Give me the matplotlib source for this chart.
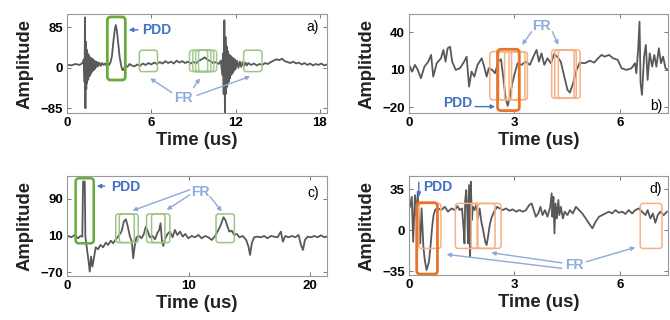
import matplotlib
matplotlib.use("Agg")
import matplotlib.pyplot as plt
from matplotlib.patches import FancyBboxPatch

plt.rcParams['font.family'] = ['Liberation Sans', 'DejaVu Sans']

# ---------------- data ----------------
a_time = [0.0, 0.3, 0.6, 0.9, 1.1, 1.2, 1.25, 1.28, 1.31, 1.34, 1.37, 1.40, 1.43, 1.47, 1.51,
          1.55, 1.6, 1.65, 1.7, 1.75, 1.8, 1.85, 1.9, 1.95, 2.0, 2.05, 2.1, 2.15, 2.2, 2.3,
          2.4, 2.5, 2.6, 2.7, 2.8, 2.9, 3.0, 3.1, 3.2, 3.3, 3.4, 3.47, 3.55, 3.65, 3.75,
          3.85, 3.95, 4.05, 4.15, 4.3, 4.45, 4.6, 4.8, 5.0, 5.2, 5.4, 5.6, 5.8, 6.0, 6.2,
          6.4, 6.6, 6.8, 7.0, 7.2, 7.4, 7.6, 7.8, 8.0, 8.2, 8.4, 8.6, 8.8, 9.0, 9.2, 9.4,
          9.6, 9.8, 10.0, 10.2, 10.4, 10.6, 10.8, 10.95, 11.05, 11.1, 11.15, 11.2, 11.24,
          11.28, 11.32, 11.36, 11.4, 11.45, 11.5, 11.55, 11.6, 11.65, 11.7, 11.75, 11.8,
          11.85, 11.9, 11.95, 12.0, 12.1, 12.2, 12.3, 12.4, 12.5, 12.6, 12.7, 12.8, 12.9,
          13.1, 13.3, 13.5, 13.7, 13.9, 14.1, 14.3, 14.5, 14.7, 14.9, 15.1, 15.3, 15.5,
          15.7, 15.9, 16.1, 16.3, 16.5, 16.7, 16.9, 17.1, 17.3, 17.5, 17.7, 17.9, 18.1,
          18.3, 18.5]
a_amp = [7, 5, 8, 6, 10, 18, -30, 106, -85, 55, -45, 38, -32, 30, -25,
         26, -18, 22, -12, 20, -8, 18, -5, 15, -2, 13, 2, 12, 3, 11,
         4, 10, 6, 9, 5, 8, 6, 12, 25, 55, 80, 90, 78, 50, 22,
         5, -5, -3, 5, 2, 8, 5, 3, 7, 4, 9, 6, 10, 7, 11,
         8, 12, 9, 14, 10, 13, 9, 15, 11, 14, 10, 13, 9, 12, 10, 15,
         18, 22, 17, 14, 10, 12, 8, 15, -15, 30, -55, 100, -95,
         65, -55, 45, -40, 35, -30, 28, -22, 25, -15, 22, -10,
         20, -6, 17, -3, 15, 0, 13, 2, 12, 4, 11, 5, 10,
         6, 9, 5, 8, 6, 10, 8, 12, 15, 18, 16, 19, 14,
         12, 10, 13, 9, 11, 7, 10, 6, 9, 5, 8, 6, 9,
         5, 7]

b_time = [0.03, 0.09, 0.17, 0.25, 0.34, 0.44, 0.55, 0.63, 0.69, 0.79, 0.91, 0.98, 1.04, 1.10,
          1.17, 1.23, 1.33, 1.45, 1.57, 1.64, 1.71, 1.78, 1.86, 1.95, 2.07, 2.14, 2.21, 2.27,
          2.37, 2.45, 2.54, 2.62, 2.68, 2.75, 2.81, 2.87, 2.94, 3.01, 3.09, 3.20, 3.32, 3.44,
          3.54, 3.63, 3.70, 3.77, 3.85, 3.94, 4.04, 4.13, 4.23, 4.32, 4.42, 4.51, 4.58, 4.67,
          4.77, 4.86, 5.00, 5.15, 5.27, 5.38, 5.48, 5.57, 5.69, 5.81, 5.94, 6.05, 6.19, 6.33,
          6.43, 6.47, 6.52, 6.56, 6.59, 6.63, 6.69, 6.74, 6.79, 6.85, 6.92, 6.98, 7.04, 7.11,
          7.17, 7.23, 7.30, 7.37]
b_amp = [12.5, 8.5, 13.9, 9.9, 3.2, 12.5, 16.5, 21.9, 4.5, 15.2, 19.2, 25.9, 16.5, 27.2,
         28.5, 16.5, 9.9, 11.2, 16.5, 20.5, -3.5, 8.5, 4.5, 13.9, 19.2, 12.5, 4.5, 11.2,
         9.9, 7.2, 16.5, 18.4, 4.5, -12.8, -18.9, -11.5, -0.8, 7.2, 15.2, 13.9, 16.5, 13.9,
         20.5, 25.9, 16.5, 23.2, 13.9, 19.2, 15.2, 22.7, 20.0, 16.5, 4.5, -6.1, -8.3, -0.8,
         9.9, 15.7, 15.2, 17.3, 15.7, 19.2, 21.9, 20.5, 21.9, 19.2, 17.9, 11.2, 9.9, 11.2,
         15.2, 7.2, 25.9, 48.5, -0.8, -10.1, 20.5, 29.9, 1.9, 23.2, 12.5, 21.9, 12.5, 27.2,
         15.2, 20.5, 11.2, 9.9]

c_time = [0.08, 0.36, 0.63, 0.91, 1.10, 1.26, 1.32, 1.46, 1.51, 1.65, 1.76, 1.87, 1.98, 2.09,
          2.23, 2.36, 2.55, 2.75, 2.97, 3.19, 3.38, 3.60, 3.79, 4.01, 4.20, 4.48, 4.67, 4.84,
          5.00, 5.16, 5.33, 5.44, 5.55, 5.71, 5.93, 6.13, 6.32, 6.48, 6.65, 6.81, 7.03, 7.23,
          7.42, 7.58, 7.69, 7.80, 7.91, 8.08, 8.27, 8.46, 8.68, 8.87, 9.07, 9.29, 9.51, 9.73,
          9.97, 10.25, 10.52, 10.80, 11.07, 11.35, 11.62, 11.90, 12.17, 12.45, 12.64, 12.86,
          13.02, 13.19, 13.35, 13.54, 13.74, 13.96, 14.18, 14.45, 14.73, 14.92, 15.05, 15.19,
          15.38, 15.66, 15.93, 16.21, 16.48, 16.76, 17.03, 17.31, 17.58, 17.75, 17.94, 18.21,
          18.49, 18.76, 19.04, 19.23, 19.40, 19.56, 19.78, 20.05, 20.33, 20.60, 20.88, 21.15,
          21.37]
c_amp = [9.3, 6.4, 11.5, 4.2, 9.3, 7.8, 127.8, 127.8, 7.8, -21.2, -43.0, -68.5, -35.8, -57.6,
         -35.8, -15.4, -19.8, -10.3, -15.4, -5.2, -10.3, -0.9, -6.7, 2.0, 7.8, 18.8, 40.6, 45.7,
         29.7, 9.3, -3.1, -39.4, -15.4, 6.4, 9.3, 4.2, 13.7, 29.7, 18.8, 6.4, 9.3, 2.0,
         15.1, 22.4, 36.9, 0.6, -12.5, 4.2, 13.7, 18.8, 6.4, 22.4, 11.5, 18.8, 7.8, 13.7,
         4.2, 9.3, 6.4, 11.5, 4.2, 9.3, 6.4, 0.6, 9.3, 22.4, 33.3, 50.0,
         44.2, 29.7, 18.8, 20.9, 11.5, 13.7, 6.4, 9.3, 0.6, -14.0, -32.1, -6.7,
         6.4, 7.8, 6.4, 9.3, 4.2, 9.3, 7.8, 6.4, 18.8, -3.1, 9.3, 6.4,
         9.3, 6.4, 11.5, -10.3, -21.2, 0.6, 7.8, 6.4, 9.3, 6.4, 10.8, 6.4,
         7.8]

d_time = [0.03, 0.08, 0.12, 0.17, 0.21, 0.25, 0.28, 0.32, 0.36, 0.41, 0.45, 0.50, 0.57, 0.62,
          0.66, 0.70, 0.75, 0.83, 0.92, 1.02, 1.11, 1.21, 1.30, 1.38, 1.44, 1.51, 1.55, 1.58,
          1.60, 1.63, 1.66, 1.68, 1.71, 1.74, 1.76, 1.79, 1.82, 1.87, 1.92, 1.96, 2.01, 2.06,
          2.11, 2.17, 2.21, 2.25, 2.29, 2.34, 2.40, 2.45, 2.51, 2.58, 2.67, 2.76, 2.86, 2.95,
          3.05, 3.14, 3.24, 3.33, 3.42, 3.49, 3.55, 3.61, 3.68, 3.74, 3.80, 3.87, 3.94, 4.02,
          4.06, 4.08, 4.11, 4.14, 4.17, 4.21, 4.25, 4.28, 4.32, 4.38, 4.43, 4.51, 4.58, 4.66,
          4.75, 4.84, 4.93, 5.03, 5.12, 5.22, 5.31, 5.41, 5.50, 5.59, 5.69, 5.78, 5.88, 5.97,
          6.07, 6.16, 6.25, 6.35, 6.44, 6.54, 6.63, 6.73, 6.79, 6.87, 6.94, 7.01, 7.08, 7.15,
          7.25, 7.34]
d_amp = [20.1, 28.7, -9.9, 30.1, 11.6, 31.6, 8.7, -11.3, 18.7, -14.1, -25.6, -34.1, -27.0, -11.3,
         3.0, 13.0, 17.9, 18.7, 17.3, 20.1, 15.9, 18.7, 17.3, 20.7, 17.3, 18.7, 3.0, -11.3,
         25.9, 34.4, 14.4, -11.3, 38.7, -22.7, 41.6, 8.7, 20.1, 17.3, 23.0, 10.1, 18.7, 7.3,
         0.1, -9.9, -12.7, -5.6, 3.0, 10.1, 14.4, 17.3, 20.1, 18.7, 17.3, 18.7, 16.7, 17.9,
         15.9, 17.3, 15.9, 17.3, 21.6, 23.0, 17.3, 11.6, 14.4, 20.1, 13.0, 17.3, 11.6, 20.1,
         31.6, 11.6, 28.7, -2.7, 23.0, 10.1, 25.9, 13.0, 20.1, 10.1, 15.9, 13.0, 17.3, 14.4,
         20.1, 17.3, 14.4, 10.1, 5.9, 1.6, 7.3, 11.6, 13.0, 14.4, 15.9, 14.4, 17.3, 15.0,
         15.9, 13.9, 17.3, 14.4, 17.3, 18.7, 15.9, 13.0, 17.3, 10.1, 14.4, 6.4, 13.0, 15.9,
         13.0, 15.9]

a_xticks = [0, 6, 12, 18]
a_yticks = [-85, 0, 85]
b_xticks = [0, 3, 6]
b_yticks = [-20, 10, 40]
c_xticks = [0, 10, 20]
c_yticks = [-70, 10, 90]
d_xticks = [0, 3, 6]
d_yticks = [-35, 0, 35]

# ---------------- style ----------------
SIG = '#595959'
PDD_C = '#4472C4'
FR_C = '#8EA9DB'
GREEN = '#6AAA3A'
GREEN_L = '#9CC584'
ORANGE = '#E8742A'
ORANGE_L = '#F4B183'

fig = plt.figure(figsize=(6.7, 3.2), dpi=100)
axA = fig.add_axes([0.1, 0.647, 0.388, 0.309])
axB = fig.add_axes([0.6104, 0.647, 0.3866, 0.309])
axC = fig.add_axes([0.1, 0.1375, 0.388, 0.3125])
axD = fig.add_axes([0.6104, 0.1406, 0.3866, 0.309])


def style(ax, xlim, ylim, xt, yt):
    ax.set_xlim(*xlim)
    ax.set_ylim(*ylim)
    ax.set_xticks(xt)
    ax.set_yticks(yt)
    ax.tick_params(direction='in', length=3, width=0.7, color='#777777',
                   top=True, right=True, labelsize=9.5, pad=3)
    for t in ax.get_xticklabels() + ax.get_yticklabels():
        t.set_fontweight('bold')
    for s in ax.spines.values():
        s.set_color('#999999')
        s.set_linewidth(0.8)
    ax.set_xlabel('Time (us)', fontsize=13.3, fontweight='bold', color='#222222')
    ax.set_ylabel('Amplitude', fontsize=13.3, fontweight='bold', color='#222222')
    ax.xaxis.set_label_coords(0.5, -0.19)
    ax.yaxis.set_label_coords(-0.13, 0.5)


def box(ax, x0, x1, y0, y1, color, lw, asp, r, alpha=1.0):
    p = FancyBboxPatch((x0, y0), x1 - x0, y1 - y0,
                       boxstyle=f"round,pad=0,rounding_size={r}",
                       mutation_aspect=asp, fill=False, edgecolor=color,
                       linewidth=lw, alpha=alpha, zorder=3)
    ax.add_patch(p)


def arrow(ax, xy_from, xy_to, color):
    ax.annotate('', xy=xy_to, xytext=xy_from,
                arrowprops=dict(arrowstyle='-|>', color=color, lw=1.0,
                                mutation_scale=6, shrinkA=0, shrinkB=0))


# ---- panel a ----
axA.plot(a_time, a_amp, color=SIG, lw=1.3)
style(axA, (0, 18.5), (-95, 113), a_xticks, a_yticks)
box(axA, 2.87, 4.15, -25.7, 107, GREEN, 2.0, 29.5, 0.25)
box(axA, 5.15, 6.44, -8, 37, GREEN_L, 1.1, 29.5, 0.2)
for x0 in [8.72, 8.95, 9.15, 9.36]:
    box(axA, x0, x0 + 1.29, -8, 37, GREEN_L, 1.1, 29.5, 0.2, alpha=0.9)
box(axA, 12.57, 13.88, -8, 37, GREEN_L, 1.1, 29.5, 0.2)
axA.text(5.35, 80, 'PDD', color=PDD_C, fontsize=10, fontweight='bold', va='center')
arrow(axA, (5.05, 80), (4.4, 80), PDD_C)
axA.text(8.3, -64, 'FR', color=FR_C, fontsize=10, fontweight='bold', ha='center', va='center')
arrow(axA, (7.46, -52), (5.92, -22), FR_C)
arrow(axA, (9.0, -42), (9.46, -22), FR_C)
arrow(axA, (9.25, -58), (13.04, -18), FR_C)
axA.text(17.9, 85, 'a)', fontsize=10, ha='right', va='center')

# ---- panel b ----
axB.plot(b_time, b_amp, color=SIG, lw=1.3)
style(axB, (0, 7.37), (-24.6, 54.6), b_xticks, b_yticks)
for x0, x1 in [(2.30, 2.92), (2.55, 3.12), (2.72, 3.30), (2.85, 3.37)]:
    box(axB, x0, x1, -14.1, 24.5, ORANGE_L, 1.1, 28.1, 0.08)
for x0, x1 in [(4.06, 4.70), (4.15, 4.76), (4.25, 4.87)]:
    box(axB, x0, x1, -12.8, 25.9, ORANGE_L, 1.1, 28.1, 0.08)
box(axB, 2.52, 3.14, -22.7, 26.4, ORANGE, 2.0, 28.1, 0.1)
axB.text(1.40, -16.5, 'PDD', color=PDD_C, fontsize=10, fontweight='bold', ha='center', va='center')
arrow(axB, (1.88, -19.5), (2.45, -19.5), PDD_C)
axB.text(3.77, 45, 'FR', color=FR_C, fontsize=10, fontweight='bold', ha='center', va='center')
arrow(axB, (3.49, 40.5), (3.22, 29.9), FR_C)
arrow(axB, (4.08, 40.5), (4.25, 29.9), FR_C)
axB.text(7.2, -19, 'b)', fontsize=10, ha='right', va='center')

# ---- panel c ----
axC.plot(c_time, c_amp, color=SIG, lw=1.3)
style(axC, (0, 21.37), (-78, 140), c_xticks, c_yticks)
box(axC, 0.71, 2.2, -6.7, 135, GREEN, 1.8, 26.5, 0.25)
for x0, x1 in [(4.01, 5.53), (4.3, 5.85), (6.54, 8.05), (6.95, 8.46), (12.25, 13.76)]:
    box(axC, x0, x1, -5.2, 57.3, GREEN_L, 1.1, 26.5, 0.22)
axC.text(3.6, 117, 'PDD', color=PDD_C, fontsize=10, fontweight='bold', va='center')
arrow(axC, (3.1, 118), (2.45, 118), PDD_C)
axC.text(11.0, 106, 'FR', color=FR_C, fontsize=10, fontweight='bold', ha='center', va='center')
arrow(axC, (10.1, 110), (5.38, 64.5), FR_C)
arrow(axC, (10.1, 99), (8.19, 66), FR_C)
arrow(axC, (11.76, 95), (12.72, 62.4), FR_C)
axC.text(20.7, 102, 'c)', fontsize=10, ha='right', va='center')

# ---- panel d ----
axD.plot(d_time, d_amp, color=SIG, lw=1.3)
style(axD, (0, 7.37), (-38.4, 46.4), d_xticks, d_yticks)
for x0, x1 in [(0.28, 0.91), (1.32, 1.94), (1.77, 2.45), (1.96, 2.62), (6.58, 7.2)]:
    box(axD, x0, x1, -15.6, 23.0, ORANGE_L, 1.1, 30.1, 0.08)
box(axD, 0.22, 0.81, -37.6, 23.6, ORANGE, 2.0, 30.1, 0.1)
axD.text(0.40, 37.3, 'PDD', color=PDD_C, fontsize=10, fontweight='bold', va='center')
arrow(axD, (0.28, 41), (0.28, 28.7), PDD_C)
axD.text(4.7, -30, 'FR', color=FR_C, fontsize=10, fontweight='bold', ha='center', va='center')
arrow(axD, (4.35, -32.7), (1.07, -20.7), FR_C)
arrow(axD, (4.35, -28), (2.34, -19.3), FR_C)
arrow(axD, (5.05, -27), (6.44, -14.7), FR_C)
axD.text(7.2, 35, 'd)', fontsize=10, ha='right', va='center')

fig.savefig('out.png', dpi=100)
